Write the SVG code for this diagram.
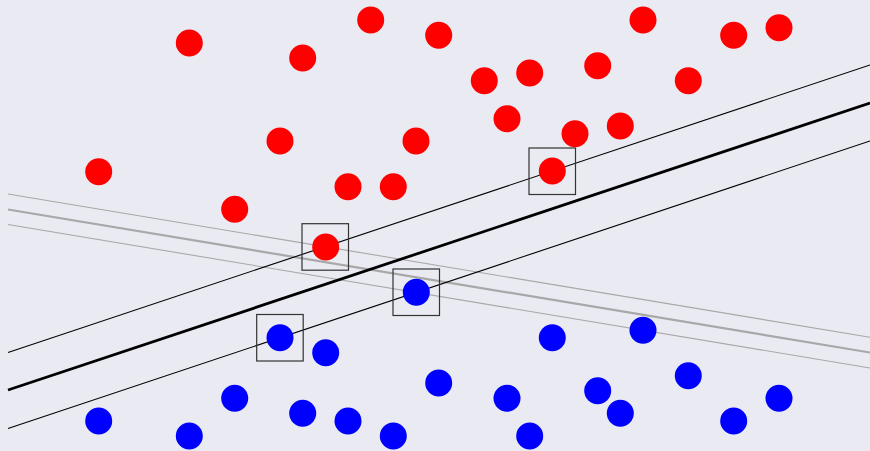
<svg xmlns="http://www.w3.org/2000/svg" width="870" height="451" viewBox="0 0 870 451">
<style>
.bg{fill:#eaeaf2}
.r{fill:#ff0000}
.b{fill:#0000ff}
.sq{fill:none;stroke:#333;stroke-width:1.2}
.thin{stroke:#000;stroke-width:1.1;fill:none}
.thick{stroke:#000;stroke-width:2.8;fill:none}
.gthin{stroke:#a8a8a8;stroke-width:1.1;fill:none}
.gthick{stroke:#a8a8a8;stroke-width:2.2;fill:none}
</style>
<rect class="bg" x="0" y="0" width="870" height="451"/>
<g id="connectors">
<line class="gthin" x1="8" y1="194" x2="870" y2="337.3"/>
<line class="gthick" x1="8" y1="209.5" x2="870" y2="352.5"/>
<line class="gthin" x1="8" y1="224.5" x2="870" y2="368"/>
<line class="thin" x1="8" y1="352.5" x2="870" y2="65"/>
<line class="thick" x1="8" y1="390" x2="870" y2="103"/>
<line class="thin" x1="8" y1="428.5" x2="870" y2="141"/>
</g>
<g id="red-points">
<circle class="r" cx="189.3" cy="43" r="13.5"/>
<circle class="r" cx="302.7" cy="58" r="13.5"/>
<circle class="r" cx="370.7" cy="20" r="13.5"/>
<circle class="r" cx="438.7" cy="35.3" r="13.5"/>
<circle class="r" cx="280" cy="141" r="13.5"/>
<circle class="r" cx="416" cy="141" r="13.5"/>
<circle class="r" cx="98.7" cy="171.7" r="13.5"/>
<circle class="r" cx="234.7" cy="209.3" r="13.5"/>
<circle class="r" cx="348" cy="186.7" r="13.5"/>
<circle class="r" cx="393.3" cy="186.7" r="13.5"/>
<circle class="r" cx="643" cy="20" r="13.5"/>
<circle class="r" cx="733.7" cy="35.3" r="13.5"/>
<circle class="r" cx="779" cy="27.7" r="13.5"/>
<circle class="r" cx="484.3" cy="80.7" r="13.5"/>
<circle class="r" cx="529.7" cy="73" r="13.5"/>
<circle class="r" cx="597.7" cy="65.7" r="13.5"/>
<circle class="r" cx="688.3" cy="80.7" r="13.5"/>
<circle class="r" cx="507" cy="118.7" r="13.5"/>
<circle class="r" cx="575" cy="133.7" r="13.5"/>
<circle class="r" cx="620.3" cy="126" r="13.5"/>
<circle class="r" cx="552.3" cy="171" r="13.5"/>
<circle class="r" cx="325.7" cy="247" r="13.5"/>
</g>
<g id="blue-points">
<circle class="b" cx="98.7" cy="421" r="13.5"/>
<circle class="b" cx="189.3" cy="436" r="13.5"/>
<circle class="b" cx="234.7" cy="398.3" r="13.5"/>
<circle class="b" cx="302.7" cy="413.3" r="13.5"/>
<circle class="b" cx="348" cy="421" r="13.5"/>
<circle class="b" cx="393.3" cy="436" r="13.5"/>
<circle class="b" cx="438.7" cy="383" r="13.5"/>
<circle class="b" cx="552.3" cy="337.7" r="13.5"/>
<circle class="b" cx="643" cy="330.3" r="13.5"/>
<circle class="b" cx="507" cy="398.3" r="13.5"/>
<circle class="b" cx="529.7" cy="436" r="13.5"/>
<circle class="b" cx="597.7" cy="390.7" r="13.5"/>
<circle class="b" cx="620.3" cy="413.3" r="13.5"/>
<circle class="b" cx="688.3" cy="375.7" r="13.5"/>
<circle class="b" cx="733.7" cy="421" r="13.5"/>
<circle class="b" cx="779" cy="398.3" r="13.5"/>
<circle class="b" cx="280" cy="337.7" r="13.5"/>
<circle class="b" cx="325.7" cy="352.7" r="13.5"/>
<circle class="b" cx="416.3" cy="292.3" r="13.5"/>
</g>
<g id="support-boxes">
<rect class="sq" x="529" y="148" width="46.5" height="46.5"/>
<rect class="sq" x="302" y="223.7" width="46.5" height="46.5"/>
<rect class="sq" x="393" y="269" width="46.5" height="46.5"/>
<rect class="sq" x="256.7" y="314.5" width="46.5" height="46.5"/>
</g>
</svg>
